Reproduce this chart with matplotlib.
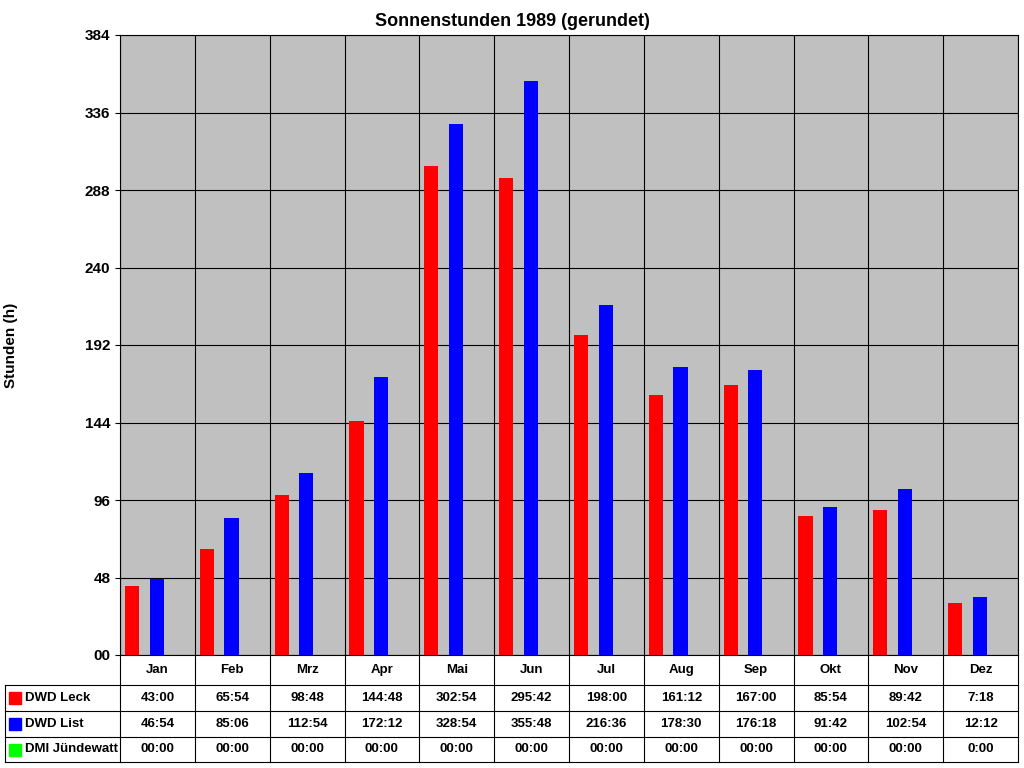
import numpy as np
import matplotlib.pyplot as plt

plt.rcParams['font.family'] = ['Liberation Sans', 'DejaVu Sans']

months = ['Jan', 'Feb', 'Mrz', 'Apr', 'Mai', 'Jun', 'Jul', 'Aug', 'Sep', 'Okt', 'Nov', 'Dez']
series = ['DWD Leck', 'DWD List', 'DMI Jündewatt']
colors = ['#ff0000', '#0000ff', '#00ff00']
leck = [43.0, 65.9, 98.8, 144.8, 302.9, 295.7, 198.0, 161.2, 167.0, 85.9, 89.7, 32.0]
liste = [46.9, 85.1, 112.9, 172.2, 328.9, 355.8, 216.6, 178.5, 176.3, 91.7, 102.9, 36.0]
dmi = [0] * 12
leck_lbl = ['43:00', '65:54', '98:48', '144:48', '302:54', '295:42', '198:00', '161:12', '167:00', '85:54', '89:42', '7:18']
list_lbl = ['46:54', '85:06', '112:54', '172:12', '328:54', '355:48', '216:36', '178:30', '176:18', '91:42', '102:54', '12:12']
dmi_lbl = ['00:00'] * 11 + ['0:00']

W, H = 1024, 768
fig = plt.figure(figsize=(W / 100, H / 100), dpi=100)
fig.patch.set_facecolor('white')

x0, x1, y0, y1 = 120, 1018, 35, 655
ax = fig.add_axes([x0 / W, 1 - y1 / H, (x1 - x0) / W, (y1 - y0) / H])
ax.set_facecolor('#c0c0c0')
x = np.arange(12)
bw = 0.19
for vals, c, off in zip([leck, liste, dmi], colors, [0.16, 0.49, 0.82]):
    ax.bar(x + off, vals, bw, color=c, zorder=3)
ax.set_xlim(0, 12)
ax.set_ylim(0, 384)
ax.set_yticks(np.arange(0, 385, 48))
ax.set_yticklabels(['00'] + [str(v) for v in range(48, 385, 48)], fontsize=11, fontweight='bold')
ax.set_xticks(np.arange(13))
ax.set_xticklabels([])
ax.tick_params(axis='x', length=0)
ax.grid(True, color='black', linewidth=0.8, zorder=1)
for s in ax.spines.values():
    s.set_color('black')
fig.text(0.5, 1 - 21 / H, 'Sonnenstunden 1989 (gerundet)', ha='center', va='center', fontsize=13, fontweight='bold')
ax.set_ylabel('Stunden (h)', fontsize=11, fontweight='bold', labelpad=48)

# data table below
tb = fig.add_axes([0, 0, 1, 1], facecolor='none')
tb.set_xlim(0, W)
tb.set_ylim(H, 0)
tb.axis('off')
rows = [655, 685, 711, 737, 762]
cw = (x1 - x0) / 12
lw = 0.8
for r in rows[1:]:
    tb.plot([5, x1], [r, r], color='black', lw=lw)
tb.plot([5, 5], [rows[1], rows[-1]], color='black', lw=lw)
for i in range(13):
    tb.plot([x0 + i * cw] * 2, [rows[0], rows[-1]], color='black', lw=lw)
for i, m in enumerate(months):
    tb.text(x0 + (i + 0.5) * cw, (rows[0] + rows[1]) / 2, m, ha='center', va='center', fontsize=9.5, fontweight='bold')
for j, (name, c, lbls) in enumerate(zip(series, colors, [leck_lbl, list_lbl, dmi_lbl])):
    yc = (rows[j + 1] + rows[j + 2]) / 2
    tb.add_patch(plt.Rectangle((9, yc - 6), 12, 12, color=c))
    tb.text(25, yc, name, ha='left', va='center', fontsize=9.5, fontweight='bold')
    for i, t in enumerate(lbls):
        tb.text(x0 + (i + 0.5) * cw, yc, t, ha='center', va='center', fontsize=9.5, fontweight='bold')

fig.savefig('out.png', dpi=100)
